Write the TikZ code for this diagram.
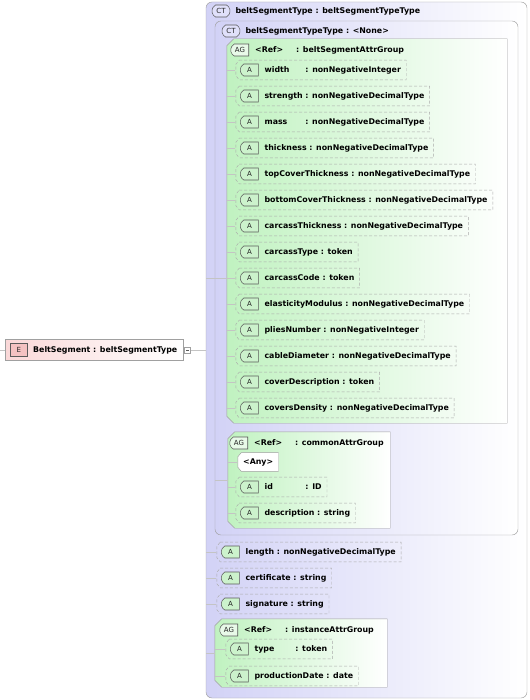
\documentclass[tikz,border=0pt]{standalone}
\usepackage{fontspec}
\setmainfont{DejaVu Sans}
\usetikzlibrary{positioning,fit,shapes.misc}
\definecolor{ctfill}{RGB}{210,210,246}
\definecolor{agfill}{RGB}{192,242,192}
\definecolor{elfill}{RGB}{250,216,216}
\definecolor{framegray}{RGB}{160,160,160}
\definecolor{dashgray}{RGB}{170,170,170}
\definecolor{linegray}{RGB}{196,196,196}
\definecolor{taggray}{RGB}{90,90,90}
\definecolor{atagfill}{RGB}{204,242,204}
\definecolor{ctagfill}{RGB}{224,224,250}
\definecolor{etagfill}{RGB}{244,194,194}
\newcommand\xsdfont{\bfseries\fontsize{6.7}{8}\selectfont}
\newcommand\tagfont{\fontsize{6}{7}\selectfont}
\newcommand\fld[1]{\setbox0\hbox{#1}\setbox2\hbox{strength}\ifdim\wd0<\wd2 \hbox to\wd2{#1\hfil}\else\box0 \fi}
\newcommand\rowoutline{([xshift=1.2mm,yshift=-0.2mm]path picture bounding box.north west)
  -- ([xshift=-0.2mm,yshift=-0.2mm]path picture bounding box.north east)
  -- ([xshift=-0.2mm,yshift=0.2mm]path picture bounding box.south east)
  -- ([xshift=1.2mm,yshift=0.2mm]path picture bounding box.south west)
  -- ([xshift=0.2mm,yshift=1.4mm]path picture bounding box.south west)
  -- ([xshift=0.2mm,yshift=-1.4mm]path picture bounding box.north west) -- cycle}
\newcommand\groupframe[1]{\path[group-frame] ([xshift=2.1mm]#1.north west) -- (#1.north east)
  -- (#1.south east) -- ([xshift=2.1mm]#1.south west) -- ([yshift=2.1mm]#1.south west)
  -- ([yshift=-2.1mm]#1.north west) -- cycle;}
\tikzset{
  xsd-text/.style={font=\xsdfont, inner sep=0pt, anchor=west},
  xsd-line/.style={draw=linegray, line width=0.4pt},
  ct-box/.style={draw=framegray, rounded corners=1.8mm, left color=ctfill, right color=white,
    inner sep=0pt, line width=0.4pt},
  group-box/.style={inner sep=0pt},
  group-frame/.style={draw=framegray, left color=agfill, right color=white, line width=0.4pt},
  attr-row/.style={anchor=west, font=\xsdfont, minimum height=6.3mm, inner xsep=1.8mm, inner ysep=0pt,
    execute at begin node={\hspace*{7mm}},
    path picture={\draw[dashgray, dash pattern=on 0.9mm off 0.6mm, line width=0.35pt] \rowoutline;}},
  any-row/.style={anchor=west, font=\xsdfont, minimum height=6mm, inner xsep=1.8mm, inner ysep=0pt,
    path picture={\draw[framegray, fill=white, line width=0.4pt] \rowoutline;}},
  attr-tag/.style={rounded rectangle, rounded rectangle right arc=none, rounded rectangle arc length=120,
    draw=taggray, fill=atagfill, minimum width=5.4mm, minimum height=3.6mm, inner sep=0pt,
    font=\tagfont, text=black!85, line width=0.45pt},
  ag-tag/.style={attr-tag, fill=atagfill!45},
  ct-tag/.style={rounded rectangle, rounded rectangle arc length=120, draw=taggray, fill=ctagfill,
    minimum width=5.4mm, minimum height=3.6mm, inner sep=0pt, font=\tagfont, text=black!85, line width=0.45pt},
  elem-box/.style={draw=framegray, left color=elfill, right color=white, minimum height=6.3mm,
    inner xsep=1.8mm, inner ysep=0pt, font=\xsdfont, line width=0.4pt,
    execute at begin node={\hspace*{6.6mm}}},
  elem-tag/.style={draw=taggray, fill=etagfill, minimum width=5.2mm, minimum height=3.8mm, inner sep=0pt,
    font=\tagfont, text=black!85, line width=0.45pt},
  toggle/.style={draw=framegray, fill=white, minimum size=1.8mm, inner sep=0pt, line width=0.4pt,
    path picture={\draw[taggray, line width=0.4pt] ([xshift=0.4mm]path picture bounding box.west)
      -- ([xshift=-0.4mm]path picture bounding box.east);}}
}
\begin{document}
\begin{tikzpicture}[x=0.3mm, y=-0.3mm]
  \path[use as bounding box, fill=white] (0,0) rectangle (529,700);
  \node[elem-box, anchor=west] (elem) at (5,350) {BeltSegment : beltSegmentType};
  \node[elem-tag, right=1.5mm of elem.west] (elem-tag) {E};
  \node[toggle, right=0.3mm of elem] (elem-toggle) {};
  \coordinate (elem-in) at (0,350);
  \draw[xsd-line] (elem-in) -- (elem.west);
  \node[ct-box, fit={(206,2) (527,698)}] (main-box) {};
  \draw[xsd-line] (elem-toggle.east) -- (elem-toggle.east -| main-box.west);
  \node[ct-tag] (main-tag) at (221,11) {CT};
  \node[xsd-text, right=1.5mm of main-tag] (main-title) {beltSegmentType : beltSegmentTypeType};
  \node[ct-box, fit={(215,21) (518,535)}] (type-box) {};
  \draw[xsd-line] (type-box.west) -- (type-box.west -| main-box.west);
  \node[ct-tag] (type-tag) at (231,31) {CT};
  \node[xsd-text, right=1.5mm of type-tag] (type-title) {beltSegmentTypeType : <None>};
  \node[group-box, fit={(227,39) (507,423)}] (belt-group) {};
  \groupframe{belt-group}
  \draw[xsd-line] (type-box.west) -- (type-box.west -| belt-group.west);
  \node[ag-tag] (belt-tag) at (240,50) {AG};
  \node[xsd-text, right=1.8mm of belt-tag] (belt-title) {\fld{<Ref>} : beltSegmentAttrGroup};
  \foreach \y/\nm/\tp [count=\i] in {70/width/nonNegativeInteger, 96/strength/nonNegativeDecimalType,
      122/mass/nonNegativeDecimalType, 148/thickness/nonNegativeDecimalType,
      174/topCoverThickness/nonNegativeDecimalType, 200/bottomCoverThickness/nonNegativeDecimalType,
      226/carcassThickness/nonNegativeDecimalType, 252/carcassType/token, 278/carcassCode/token,
      304/elasticityModulus/nonNegativeDecimalType, 330/pliesNumber/nonNegativeInteger,
      356/cableDiameter/nonNegativeDecimalType, 382/coverDescription/token,
      408/coversDensity/nonNegativeDecimalType} {
    \node[attr-row] (belt-\i) at (235,\y) {\fld{\nm} : \tp};
    \node[attr-tag, right=1.5mm of belt-\i.west] (belt-\i-tag) {A};
    \draw[xsd-line] (belt-\i.west) -- (belt-\i.west -| belt-group.west);
  }
  \node[group-box, fit={(228,432) (390,528)}] (common-group) {};
  \groupframe{common-group}
  \draw[xsd-line] (common-group.west) -- (common-group.west -| type-box.west);
  \node[ag-tag] (common-tag) at (239,443) {AG};
  \node[xsd-text, right=1.8mm of common-tag] (common-title) {\fld{<Ref>} : commonAttrGroup};
  \node[any-row] (common-any) at (237,462) {<Any>};
  \draw[xsd-line] (common-any.west) -- (common-any.west -| common-group.west);
  \foreach \y/\nm/\tp [count=\i] in {487/id/ID, 513/description/string} {
    \node[attr-row] (common-\i) at (235,\y) {\fld{\nm} : \tp};
    \node[attr-tag, right=1.5mm of common-\i.west] (common-\i-tag) {A};
    \draw[xsd-line] (common-\i.west) -- (common-\i.west -| common-group.west);
  }
  \foreach \y/\nm/\tp [count=\i] in {552/length/nonNegativeDecimalType, 578/certificate/string,
      604/signature/string} {
    \node[attr-row] (main-\i) at (216,\y) {\nm\ : \tp};
    \node[attr-tag, right=1.5mm of main-\i.west] (main-\i-tag) {A};
    \draw[xsd-line] (main-\i.west) -- (main-\i.west -| main-box.west);
  }
  \node[group-box, fit={(215,619) (387,687)}] (inst-group) {};
  \groupframe{inst-group}
  \draw[xsd-line] (inst-group.west) -- (inst-group.west -| main-box.west);
  \node[ag-tag] (inst-tag) at (229,630) {AG};
  \node[xsd-text, right=1.8mm of inst-tag] (inst-title) {\fld{<Ref>} : instanceAttrGroup};
  \foreach \y/\nm/\tp [count=\i] in {649/type/token, 676/productionDate/date} {
    \node[attr-row] (inst-\i) at (225,\y) {\fld{\nm} : \tp};
    \node[attr-tag, right=1.5mm of inst-\i.west] (inst-\i-tag) {A};
    \draw[xsd-line] (inst-\i.west) -- (inst-\i.west -| inst-group.west);
  }
\end{tikzpicture}
\end{document}
